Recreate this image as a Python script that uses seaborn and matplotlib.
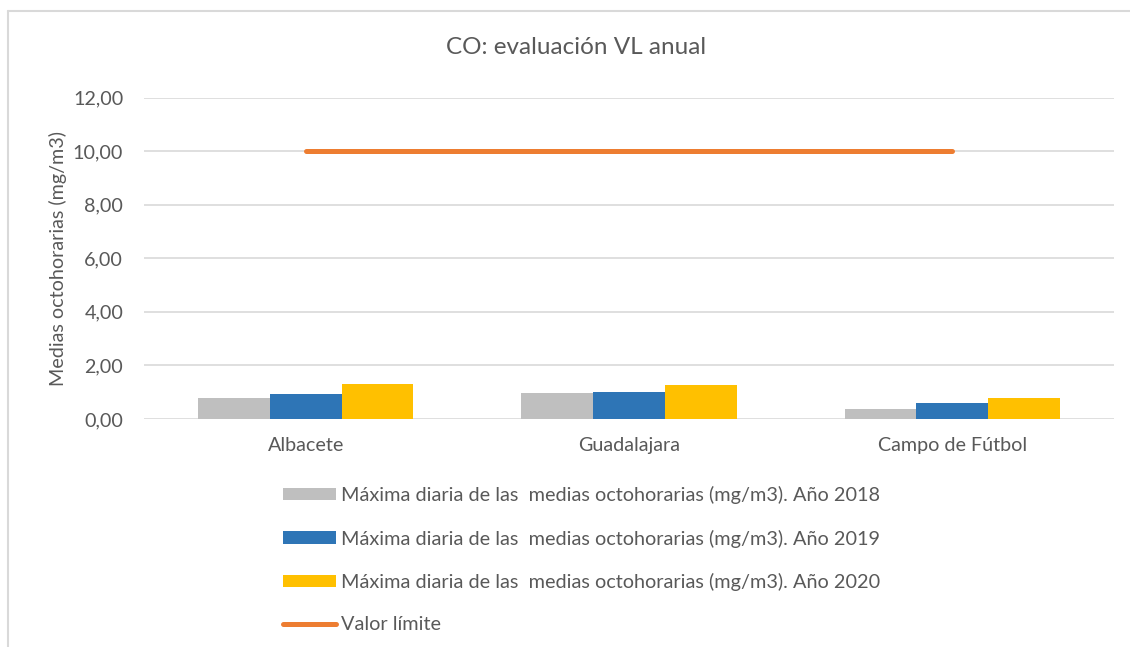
import numpy as np
import pandas as pd
import seaborn as sns
import matplotlib.pyplot as plt
from matplotlib.ticker import FuncFormatter
from matplotlib.lines import Line2D
from matplotlib.patches import Patch

stations = ['Albacete', 'Guadalajara', 'Campo de Fútbol']
years = ['2018', '2019', '2020']
max_2018 = [0.78, 0.98, 0.38]
max_2019 = [0.93, 1.02, 0.58]
max_2020 = [1.29, 1.28, 0.79]
limit = [10, 10, 10]

series_names = ['Máxima diaria de las  medias octohorarias (mg/m3). Año %s' % y for y in years]
colors = ['#BFBFBF', '#2E75B6', '#FFC000']
line_color = '#ED7D31'
text_color = '#595959'

df = pd.DataFrame({
    'station': stations * 3,
    'serie': [n for n in series_names for _ in stations],
    'value': max_2018 + max_2019 + max_2020,
})

sns.set_theme(style='white')
plt.rcParams['font.family'] = ['Lato', 'DejaVu Sans']

fig = plt.figure(figsize=(11.3, 6.47), dpi=100)
ax = fig.add_axes([144 / 1130, 1 - 419 / 647, (1114 - 144) / 1130, (419 - 97.5) / 647])

sns.barplot(data=df, x='station', y='value', hue='serie', order=stations,
            hue_order=series_names, palette=colors, width=0.667, gap=0,
            saturation=1, legend=False, linewidth=0, edgecolor='none', ax=ax)
sns.lineplot(x=np.arange(len(stations)), y=limit, color=line_color,
             linewidth=3.6, solid_capstyle='round', ax=ax)

ax.set_ylim(0, 12)
ax.set_yticks(np.arange(0, 13, 2))
ax.yaxis.set_major_formatter(FuncFormatter(lambda v, p: ('%.2f' % v).replace('.', ',')))
ax.set_xlim(-0.5, 2.5)
ax.grid(axis='y', color='#D9D9D9', linewidth=1.2)
ax.set_axisbelow(True)
for s in ax.spines.values():
    s.set_visible(False)
ax.tick_params(axis='y', length=0, pad=15, labelsize=14.2, labelcolor=text_color)
ax.tick_params(axis='x', length=0, pad=13, labelsize=14.2, labelcolor=text_color)
ax.set_xlabel('')
ax.set_ylabel('Medias octohorarias (mg/m3)', fontsize=14.2, color=text_color, labelpad=4.5)

fig.text(576 / 1130, 1 - 47 / 647, 'CO: evaluación VL anual', ha='center', va='center',
         fontsize=17.5, color=text_color)

handles = [Patch(facecolor=c, edgecolor='none') for c in colors]
handles.append(Line2D([0], [0], color=line_color, linewidth=3.6, solid_capstyle='round'))
labels = series_names + ['Valor límite']
leg = fig.legend(handles, labels, loc='upper left', bbox_to_anchor=(283 / 1130, 1 - 486 / 647),
                 frameon=False, fontsize=14.3, labelspacing=1.28, handlelength=2.65,
                 handletextpad=0.25, borderpad=0, borderaxespad=0, handleheight=0.6)
for t in leg.get_texts():
    t.set_color(text_color)

# chart border (clipped on the right and bottom)
fig.add_artist(Line2D([8 / 1130, 8 / 1130], [0, 1 - 11 / 647], transform=fig.transFigure,
                      color='#D9D9D9', linewidth=1.5))
fig.add_artist(Line2D([8 / 1130, 1], [1 - 11 / 647, 1 - 11 / 647], transform=fig.transFigure,
                      color='#D9D9D9', linewidth=1.5))

fig.savefig('out.png', dpi=100)
